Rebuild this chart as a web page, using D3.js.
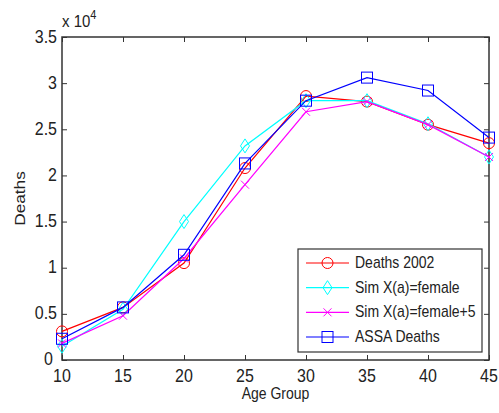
<!DOCTYPE html>
<html><head><meta charset="utf-8">
<script src="https://cdn.jsdelivr.net/npm/d3@7"></script>
<style>body{margin:0;background:#fff}svg{display:block}text{font-family:"Liberation Sans",Arial,sans-serif;fill:#222}</style>
</head><body>
<svg id="c" width="499" height="413"></svg>
<script>
const ages = [10,15,20,25,30,35,40,45];
const deaths2002 = [0.31,0.57,1.05,2.08,2.86,2.80,2.55,2.35];
const simFemale = [0.15,0.55,1.50,2.32,2.81,2.81,2.56,2.20];
const simFemale5 = [0.18,0.48,1.10,1.90,2.69,2.80,2.55,2.20];
const assaDeaths = [0.23,0.57,1.14,2.13,2.81,3.06,2.92,2.41];
const seriesNames = ["Deaths 2002","Sim X(a)=female","Sim X(a)=female+5","ASSA Deaths"];
const seriesColors = ["#ff0000","#00ffff","#ff00ff","#0000ff"];
const seriesMarkers = ["circle","diamond","x","square"];
const yTicks = [0,0.5,1,1.5,2,2.5,3,3.5];
const xTicks = [10,15,20,25,30,35,40,45];
const seriesData = [deaths2002, simFemale, simFemale5, assaDeaths];

const svg = d3.select("#c");
const L=62,R=489,T=37,B=360;
const x = d3.scaleLinear().domain([10,45]).range([L,R]);
const y = d3.scaleLinear().domain([0,3.5]).range([B,T]);
const axisCol="#333";
const tl=5;

svg.append("rect").attr("x",L).attr("y",T).attr("width",R-L).attr("height",B-T)
  .attr("fill","none").attr("stroke",axisCol).attr("stroke-width",1.5);

function scaledText(g, txt, px, py, size, sy, anchor){
  return g.append("text").attr("transform",`translate(${px},${py}) scale(1,${sy})`)
    .attr("text-anchor",anchor).attr("font-size",size).text(txt);
}

function ticks(axisFn, tx, ty){
  const g = svg.append("g").attr("transform",`translate(${tx},${ty})`).call(axisFn.tickSize(-tl).tickFormat(""));
  g.select(".domain").remove();
  g.selectAll("line").attr("stroke",axisCol);
}
ticks(d3.axisLeft(y).tickValues(yTicks), L, 0);
ticks(d3.axisRight(y).tickValues(yTicks), R, 0);
ticks(d3.axisBottom(x).tickValues(xTicks), 0, B);
ticks(d3.axisTop(x).tickValues(xTicks), 0, T);

const lab = svg.append("g");
yTicks.forEach(v=>scaledText(lab, d3.format("")(v), v===0 ? L-9 : L-5, v===0 ? y(v)+4.5 : y(v)+5.5, 16, 1.15, "end"));
xTicks.forEach(v=>scaledText(lab, String(v), x(v), B+22, 16, 1.15, "middle"));

const ex = lab.append("text").attr("transform",`translate(${L},27) scale(1,1.15)`).attr("font-size",15);
ex.append("tspan").text("x 10");
ex.append("tspan").attr("dy",-7).attr("font-size",11).text("4");

scaledText(lab,"Age Group",(L+R)/2,399,14,1.2,"middle");
lab.append("text").attr("transform",`translate(25,${(T+B)/2}) rotate(-90) scale(1.15,1)`)
  .attr("text-anchor","middle").attr("font-size",15).text("Deaths");

function marker(g, type, cx, cy, col){
  if(type==="circle") g.append("circle").attr("cx",cx).attr("cy",cy).attr("r",5.5).attr("fill","none").attr("stroke",col);
  else if(type==="diamond") g.append("path").attr("d",`M${cx},${cy-7}L${cx+4.5},${cy}L${cx},${cy+7}L${cx-4.5},${cy}Z`).attr("fill","none").attr("stroke",col);
  else if(type==="x") g.append("path").attr("d",`M${cx-4},${cy-4}L${cx+4},${cy+4}M${cx-4},${cy+4}L${cx+4},${cy-4}`).attr("stroke",col);
  else g.append("rect").attr("x",cx-5.5).attr("y",cy-5.5).attr("width",11).attr("height",11).attr("fill","none").attr("stroke",col);
}

const line = d3.line().x((d,i)=>x(ages[i])).y(d=>y(d));
seriesData.forEach((s,k)=>{
  const g = svg.append("g");
  g.append("path").attr("d",line(s)).attr("fill","none").attr("stroke",seriesColors[k]).attr("stroke-width",1.2);
  s.forEach((v,i)=>marker(g, seriesMarkers[k], x(ages[i]), y(v), seriesColors[k]));
});

const lg = svg.append("g");
lg.append("rect").attr("x",298).attr("y",249).attr("width",184).attr("height",103).attr("fill","#fff").attr("stroke",axisCol).attr("stroke-width",1.2);
const ly = d3.scalePoint().domain(seriesNames).range([263,337]);
seriesNames.forEach((n,k)=>{
  const yy = ly(n);
  lg.append("line").attr("x1",306).attr("x2",349).attr("y1",yy).attr("y2",yy).attr("stroke",seriesColors[k]).attr("stroke-width",1.2);
  marker(lg, seriesMarkers[k], 327.5, yy, seriesColors[k]);
  scaledText(lg, n, 355, yy+5, 14, 1.2, "start");
});
</script>
</body></html>
